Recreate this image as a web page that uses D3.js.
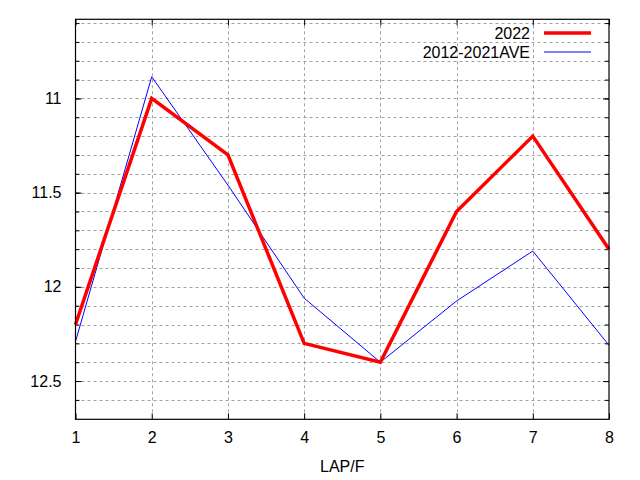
<!DOCTYPE html>
<html><head><meta charset="utf-8">
<script src="https://cdn.jsdelivr.net/npm/d3@7"></script>
<style>body{margin:0;background:#fff}svg{display:block}</style>
</head><body>
<svg id="c" width="640" height="480"></svg>
<script>
const laps = [1, 2, 3, 4, 5, 6, 7, 8];
const series2022 = [12.2, 11.0, 11.3, 12.3, 12.4, 11.6, 11.2, 11.8];
const seriesAve = [12.29, 10.885, 11.46, 12.06, 12.4, 12.075, 11.81, 12.31];
const yTicks = [11, 11.5, 12, 12.5];
const yMinor = [10.6,10.7,10.8,10.9,11.0,11.1,11.2,11.3,11.4,11.5,11.6,11.7,11.8,11.9,12.0,12.1,12.2,12.3,12.4,12.5,12.6];
const seriesNames = ["2022", "2012-2021AVE"];

const svg = d3.select("#c");
const L = 75.5, R = 609, T = 19.3, B = 419.3;
const x = d3.scaleLinear().domain([1, 8]).range([L, R]);
const y = d3.scaleLinear().domain([10.58, 12.703]).range([T, B]);
const font = "Liberation Sans, Arial, sans-serif";

// grid
const g = svg.append("g");
g.selectAll(".hg").data(yMinor).enter().append("line")
  .attr("x1", L).attr("x2", R).attr("y1", d => Math.round(y(d)) + 0.5).attr("y2", d => Math.round(y(d)) + 0.5)
  .attr("stroke", "#a0a0a0").attr("stroke-width", 1).attr("stroke-dasharray", "3,3");
g.selectAll(".vg").data(laps.slice(1, -1)).enter().append("line")
  .attr("x1", d => Math.round(x(d)) + 0.5).attr("x2", d => Math.round(x(d)) + 0.5).attr("y1", T).attr("y2", B)
  .attr("stroke", "#a0a0a0").attr("stroke-width", 1).attr("stroke-dasharray", "3,3");

// axes
const xAxisB = d3.axisBottom(x).tickValues(laps).tickSize(-6).tickPadding(12).tickFormat(d3.format("d"));
const xAxisT = d3.axisTop(x).tickValues(laps).tickSize(-6).tickFormat("");
const yAxisL = d3.axisLeft(y).tickValues(yTicks).tickSize(-6).tickPadding(14).tickFormat(d => d3.format("")(d));
const yAxisR = d3.axisRight(y).tickValues(yTicks).tickSize(-6).tickFormat("");
const yMinorL = d3.axisLeft(y).tickValues(yMinor).tickSize(-4).tickFormat("");
const yMinorR = d3.axisRight(y).tickValues(yMinor).tickSize(-4).tickFormat("");

function style(sel) {
  sel.select(".domain").remove();
  sel.selectAll("line").attr("stroke", "#000");
  sel.selectAll("text").attr("font-family", font).attr("font-size", 16).attr("fill", "#000");
}
svg.append("g").attr("transform", `translate(0,${B})`).call(xAxisB).call(style);
svg.append("g").attr("transform", `translate(0,${T})`).call(xAxisT).call(style);
svg.append("g").attr("transform", `translate(${L},0)`).call(yAxisL).call(style);
svg.append("g").attr("transform", `translate(${R},0)`).call(yAxisR).call(style);
svg.append("g").attr("transform", `translate(${L},0)`).call(yMinorL).call(style);
svg.append("g").attr("transform", `translate(${R},0)`).call(yMinorR).call(style);

// lines
const line = d3.line().x((d, i) => x(laps[i])).y(d => y(d));
svg.append("path").datum(seriesAve).attr("d", line).attr("fill", "none")
  .attr("stroke", "#0000ff").attr("stroke-width", 1);
svg.append("path").datum(series2022).attr("d", line).attr("fill", "none")
  .attr("stroke", "#ff0000").attr("stroke-width", 3.5).attr("stroke-linejoin", "miter");

// border
svg.append("rect").attr("x", L).attr("y", T).attr("width", R - L).attr("height", B - T)
  .attr("fill", "none").attr("stroke", "#000").attr("stroke-width", 1.2);

// legend
const leg = [{name: seriesNames[0], c: "#ff0000", w: 3.5, yy: 33}, {name: seriesNames[1], c: "#0000ff", w: 1, yy: 52}];
leg.forEach(l => {
  svg.append("rect").attr("x", 420).attr("y", l.yy - 9).attr("width", 0).attr("height", 0);
  svg.append("text").attr("x", 530).attr("y", l.yy).attr("dy", "0.35em").attr("text-anchor", "end")
    .attr("font-family", font).attr("font-size", 16).text(l.name);
  svg.append("line").attr("x1", 544).attr("x2", 591).attr("y1", l.yy).attr("y2", l.yy)
    .attr("stroke", l.c).attr("stroke-width", l.w);
});

// x label
svg.append("text").attr("x", (L + R) / 2).attr("y", 466).attr("dy", "0.35em").attr("text-anchor", "middle")
  .attr("font-family", font).attr("font-size", 16).text("LAP/F");
</script>
</body></html>
